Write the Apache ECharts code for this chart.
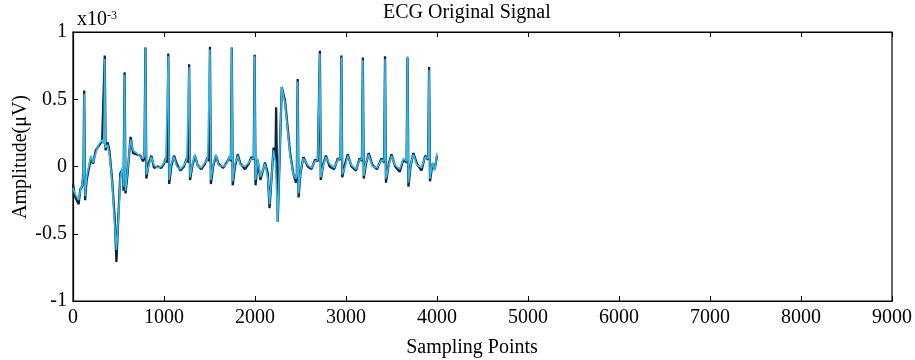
<!DOCTYPE html>
<html>
<head>
<meta charset="utf-8">
<script src="https://cdn.jsdelivr.net/npm/echarts@6/dist/echarts.min.js"></script>
<style>html,body{margin:0;padding:0;background:#fff;}#chart{width:915px;height:360px;}</style>
</head>
<body>
<div id="chart"></div>
<script>
// Sampling point positions
const samples = [0,20,62,80,100,115,123,133,150,196,220,250,280,320,340,349,358,380,400,430,460,477,500,520,545,555,567,577,600,633,660,700,740,770,785,796,806,830,862,890,930,970,1000,1020,1036,1047,1057,1080,1110,1140,1180,1220,1250,1266,1276,1286,1310,1340,1370,1410,1450,1480,1495,1505,1515,1540,1570,1600,1650,1690,1720,1735,1745,1755,1780,1810,1840,1890,1930,1960,1986,1996,2006,2030,2060,2110,2140,2160,2204,2225,2232,2250,2294,2330,2386,2420,2450,2460,2469,2479,2500,2531,2580,2620,2660,2690,2703,2713,2723,2750,2780,2820,2870,2910,2939,2949,2959,2990,3020,3060,3110,3150,3175,3185,3195,3220,3250,3290,3340,3390,3419,3429,3439,3470,3500,3540,3590,3630,3666,3676,3686,3710,3740,3780,3830,3870,3903,3913,3923,3950,3975,4000];
// Original signal (dark), units x10^-3
const originalSignal = [-0.13,-0.22,-0.28,-0.17,-0.15,-0.05,0.565,-0.25,-0.1,0.06,0.02,0.12,0.15,0.19,0.18,0.825,0.12,0.18,0.12,-0.1,-0.4,-0.71,-0.35,-0.05,-0.02,-0.18,0.7,-0.2,-0.05,0.22,0.1,0.09,0.08,0.04,0.06,0.885,-0.09,0.02,0.08,-0.01,0.0,-0.01,0.02,0.06,0.03,0.84,-0.13,0.0,0.08,0.02,-0.03,0.0,0.06,0.03,0.76,-0.1,0.0,0.08,0.01,-0.02,0.02,0.07,0.04,0.89,-0.13,0.0,0.08,0.02,-0.01,0.03,0.07,0.04,0.885,-0.14,0.0,0.09,0.02,-0.02,0.02,0.07,0.05,0.83,-0.14,0.045,-0.1,0.03,-0.05,-0.31,0.14,0.05,0.44,-0.41,0.59,0.49,0.1,-0.05,-0.12,-0.05,0.65,-0.23,-0.05,0.07,0.0,-0.02,0.05,0.04,0.03,0.86,-0.1,0.02,0.08,0.0,-0.02,0.06,0.05,0.825,-0.08,0.02,0.09,0.0,-0.03,0.06,0.04,0.81,-0.09,0.02,0.1,0.01,-0.02,0.06,0.03,0.82,-0.12,0.02,0.09,0.0,-0.04,0.05,0.03,0.81,-0.15,0.0,0.1,0.02,-0.03,0.08,0.05,0.74,-0.11,0.02,-0.02,0.08];
// Second (cyan) trace, units x10^-3
const filteredSignal = [-0.16,-0.2,-0.25,-0.18,-0.14,-0.06,0.54,-0.22,-0.08,0.08,0.03,0.1,0.16,0.2,0.17,0.8,0.14,0.16,0.1,-0.12,-0.45,-0.62,-0.38,-0.08,0.0,-0.15,0.68,-0.18,-0.03,0.2,0.12,0.1,0.07,0.06,0.08,0.88,-0.06,0.0,0.07,0.01,-0.01,0.0,0.03,0.05,0.04,0.82,-0.1,0.02,0.07,0.0,-0.02,0.01,0.05,0.04,0.74,-0.08,0.01,0.09,0.0,-0.01,0.03,0.06,0.05,0.87,-0.1,0.01,0.09,0.01,0.0,0.02,0.08,0.05,0.88,-0.11,0.02,0.08,0.01,0.0,0.03,0.06,0.06,0.82,-0.1,0.06,-0.08,0.02,-0.08,-0.28,0.12,0.03,-0.1,-0.41,0.59,0.47,0.08,-0.06,-0.09,-0.06,0.63,-0.2,-0.04,0.06,0.01,-0.01,0.04,0.05,0.04,0.84,-0.08,0.01,0.07,0.02,-0.01,0.05,0.06,0.81,-0.06,0.0,0.08,0.01,-0.02,0.05,0.05,0.79,-0.07,0.03,0.09,0.0,-0.01,0.05,0.04,0.8,-0.09,0.01,0.08,0.01,-0.02,0.06,0.04,0.82,-0.12,0.01,0.09,0.01,-0.01,0.07,0.06,0.72,-0.09,0.03,-0.03,0.1];
const xTicks = [0,1000,2000,3000,4000,5000,6000,7000,8000,9000];
const yTicks = [-1,-0.5,0,0.5,1];

const FONT = '"Liberation Serif","Times New Roman",serif';
const chart = echarts.init(document.getElementById('chart'), null, {renderer:'canvas'});
const pair = ys => samples.map((s,i)=>[s, ys[i]]);

chart.setOption({
  animation:false,
  backgroundColor:'#fff',
  grid:{left:73,right:17,top:32,bottom:59,show:true,borderColor:'#000',borderWidth:1.2,backgroundColor:'transparent'},
  xAxis:[{
    type:'value',min:xTicks[0],max:xTicks[xTicks.length-1],interval:1000,position:'bottom',
    axisLine:{show:true,onZero:false,lineStyle:{color:'#000',width:1.2}},
    axisTick:{show:true,inside:true,length:5,lineStyle:{color:'#000'}},
    axisLabel:{margin:7,color:'#000',fontFamily:FONT,fontSize:20,formatter:v=>String(v)},
    splitLine:{show:false}
  },{
    type:'value',min:xTicks[0],max:xTicks[xTicks.length-1],interval:1000,position:'top',
    axisLine:{show:true,onZero:false,lineStyle:{color:'#000',width:1.2}},
    axisTick:{show:true,inside:true,length:5,lineStyle:{color:'#000'}},
    axisLabel:{show:false},splitLine:{show:false}
  }],
  yAxis:[{
    type:'value',min:yTicks[0],max:yTicks[yTicks.length-1],interval:0.5,
    axisLine:{show:true,onZero:false,lineStyle:{color:'#000',width:1.2}},
    axisTick:{show:true,inside:true,length:5,lineStyle:{color:'#000'}},
    axisLabel:{margin:6,color:'#000',fontFamily:FONT,fontSize:20,formatter:v=>String(v)},
    splitLine:{show:false}
  }],
  graphic:[
    {type:'text',left:383,top:3,style:{text:'ECG Original Signal',fill:'#000',font:'20px '+FONT}},
    {type:'text',x:77,y:10,style:{rich:{b:{fontSize:20,fontFamily:FONT,fill:'#000'},s:{fontSize:12,fontFamily:FONT,fill:'#000',verticalAlign:'top',padding:[0,0,8,0]}},text:'{b|x10}{s|-3}'}},
    {type:'text',x:472,y:348,style:{text:'Sampling Points',fill:'#000',font:'20px '+FONT,textAlign:'center',textVerticalAlign:'middle'}},
    {type:'text',x:21,y:157,rotation:Math.PI/2,style:{text:'Amplitude(μV)',fill:'#000',font:'20px '+FONT,textAlign:'center',textVerticalAlign:'middle'}}
  ],
  series:[
    {name:'Original',type:'line',data:pair(originalSignal),showSymbol:false,lineStyle:{color:'#0f2438',width:2.3},z:2},
    {name:'Filtered',type:'line',data:pair(filteredSignal),showSymbol:false,lineStyle:{color:'#2fb8ea',width:1.6},z:3}
  ]
});
</script>
</body>
</html>
